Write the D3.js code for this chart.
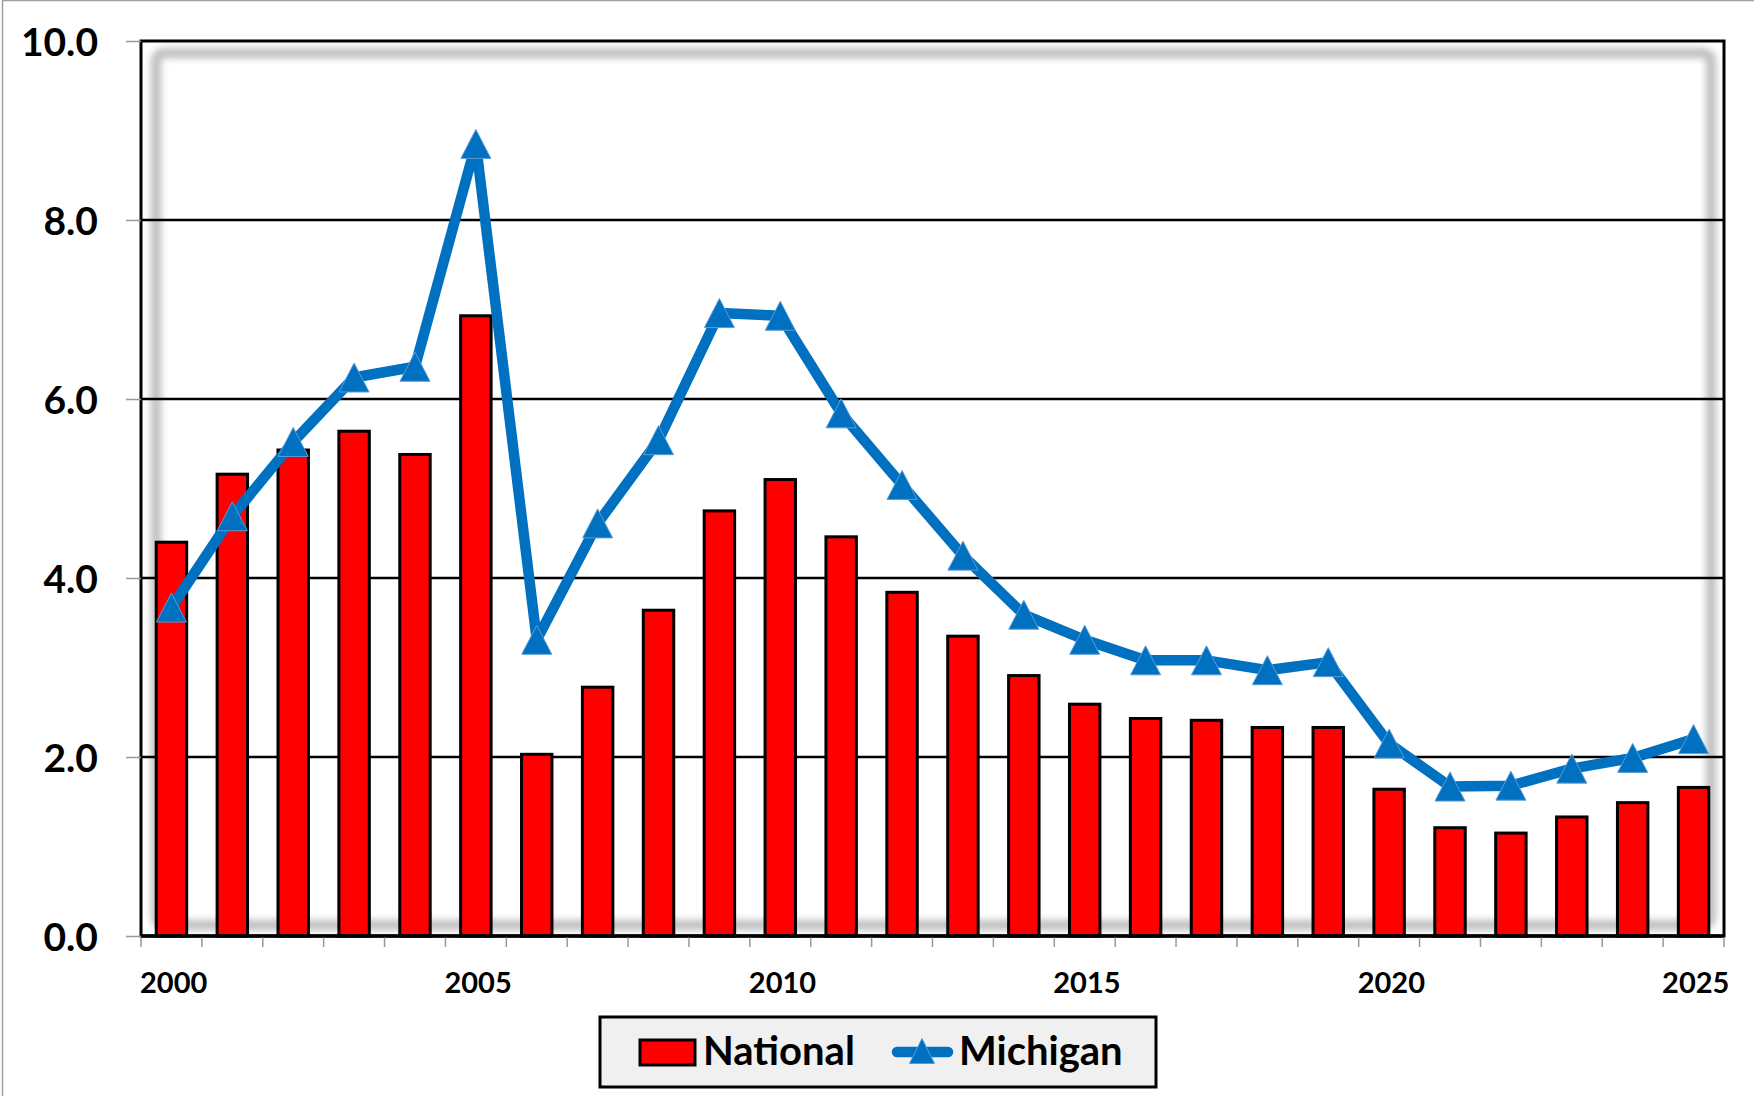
<!DOCTYPE html>
<html>
<head>
<meta charset="utf-8">
<script src="https://cdn.jsdelivr.net/npm/d3@7"></script>
<style>
  body { margin: 0; background: #fff; }
  text { font-family: Lato, "Open Sans", sans-serif; font-weight: bold; fill: #000; }
</style>
</head>
<body>
<svg id="chart" width="1754" height="1096"></svg>
<script>
// data
const years = [2000, 2001, 2002, 2003, 2004, 2005, 2006, 2007, 2008, 2009, 2010, 2011, 2012,
  2013, 2014, 2015, 2016, 2017, 2018, 2019, 2020, 2021, 2022, 2023, 2024, 2025];
const national = [4.40, 5.16, 5.43, 5.64, 5.38, 6.93, 2.03, 2.78, 3.64, 4.75, 5.10, 4.46, 3.84,
  3.35, 2.91, 2.59, 2.43, 2.41, 2.33, 2.33, 1.64, 1.21, 1.15, 1.33, 1.49, 1.66];
const michigan = [3.67, 4.69, 5.52, 6.24, 6.36, 8.85, 3.31, 4.61, 5.54, 6.96, 6.93, 5.84, 5.04,
  4.25, 3.59, 3.31, 3.08, 3.08, 2.97, 3.06, 2.15, 1.67, 1.68, 1.87, 1.99, 2.20];
const yTicks = [0, 2, 4, 6, 8, 10];
const xLabels = [2000, 2005, 2010, 2015, 2020, 2025];
const seriesNames = ['National', 'Michigan'];

const plotLeft = 141, plotRight = 1724, plotTop = 41, plotBottom = 936;
const blue = '#0070C0';

const svg = d3.select('#chart');

// outer chart frame (only left/top edges visible in the picture)
svg.append('rect')
  .attr('x', 2.5).attr('y', 0.5)
  .attr('width', 1800).attr('height', 1200)
  .attr('fill', '#fff')
  .attr('stroke', '#a0a0a0')
  .attr('stroke-width', 1.5);

const x = d3.scaleBand()
  .domain(years)
  .range([plotLeft, plotRight])
  .paddingInner(0.5)
  .paddingOuter(0.25);
const step = x.step();
const edge = d => x(d) - step * 0.25;

const y = d3.scaleLinear().domain([0, 10]).range([plotBottom, plotTop]);

// soft inner shadow of the plot area
const defs = svg.append('defs');
defs.append('filter')
  .attr('id', 'soft')
  .attr('x', '-5%').attr('y', '-5%').attr('width', '110%').attr('height', '110%')
  .append('feGaussianBlur')
  .attr('stdDeviation', 3.5);

svg.append('rect')
  .attr('x', 156).attr('y', 53)
  .attr('width', 1711 - 156).attr('height', 925 - 53)
  .attr('rx', 8)
  .attr('fill', 'none')
  .attr('stroke', '#bdbdbd')
  .attr('stroke-width', 10)
  .attr('filter', 'url(#soft)');

// gridlines
svg.append('g')
  .selectAll('line')
  .data(yTicks.filter(d => d > 0 && d < 10))
  .join('line')
  .attr('x1', plotLeft).attr('x2', plotRight)
  .attr('y1', d => y(d)).attr('y2', d => y(d))
  .attr('stroke', '#000')
  .attr('stroke-width', 2.6);

// bars
svg.append('g')
  .selectAll('rect')
  .data(years)
  .join('rect')
  .attr('x', d => x(d))
  .attr('y', (d, i) => y(national[i]))
  .attr('width', x.bandwidth())
  .attr('height', (d, i) => y(0) - y(national[i]))
  .attr('fill', '#FF0000')
  .attr('stroke', '#000')
  .attr('stroke-width', 3);

// michigan line
const line = d3.line()
  .x((d, i) => x(years[i]) + x.bandwidth() / 2)
  .y(d => y(d));

svg.append('path')
  .datum(michigan)
  .attr('d', line)
  .attr('fill', 'none')
  .attr('stroke', blue)
  .attr('stroke-width', 10.5)
  .attr('stroke-linejoin', 'round');

const tri = (w, h) => `M0,${-h / 2}L${w / 2},${h / 2}L${-w / 2},${h / 2}Z`;

svg.append('g')
  .selectAll('path')
  .data(michigan)
  .join('path')
  .attr('transform', (d, i) => `translate(${x(years[i]) + x.bandwidth() / 2},${y(d)})`)
  .attr('d', tri(30, 29))
  .attr('fill', blue)
  .attr('stroke', '#5B9BD5')
  .attr('stroke-width', 1);

// plot border
svg.append('rect')
  .attr('x', plotLeft).attr('y', plotTop)
  .attr('width', plotRight - plotLeft).attr('height', plotBottom - plotTop)
  .attr('fill', 'none')
  .attr('stroke', '#000')
  .attr('stroke-width', 3);

// y axis
const yAxis = svg.append('g')
  .attr('transform', `translate(${plotLeft},0)`)
  .call(d3.axisLeft(y).tickValues(yTicks).tickFormat(d3.format('.1f')).tickSize(15).tickPadding(28));
yAxis.select('.domain').remove();
yAxis.selectAll('.tick line').attr('stroke', '#999').attr('stroke-width', 1.5);
yAxis.selectAll('.tick text')
  .attr('font-size', 39)
  .attr('dy', '0.36em')
  .style('font-family', 'Lato, sans-serif')
  .style('font-weight', 'bold');

// x axis: tick marks at category edges, labels from the left edge
const xAxis = svg.append('g');
xAxis.append('line')
  .attr('x1', plotLeft).attr('x2', plotRight)
  .attr('y1', plotBottom).attr('y2', plotBottom)
  .attr('stroke', '#000')
  .attr('stroke-width', 3.5);

xAxis.selectAll('line.tick')
  .data(years.map(edge).concat([plotRight]))
  .join('line')
  .attr('class', 'tick')
  .attr('x1', d => d).attr('x2', d => d)
  .attr('y1', plotBottom + 1.5).attr('y2', plotBottom + 11)
  .attr('stroke', '#999')
  .attr('stroke-width', 1.5);

xAxis.selectAll('text')
  .data(xLabels)
  .join('text')
  .attr('x', d => edge(d) - 1)
  .attr('y', 993)
  .attr('font-size', 29)
  .attr('text-anchor', 'start')
  .text(d => d);

// legend
const legend = svg.append('g');
legend.append('rect')
  .attr('x', 600).attr('y', 1017)
  .attr('width', 556).attr('height', 70)
  .attr('fill', '#F0F0F0')
  .attr('stroke', '#000')
  .attr('stroke-width', 3);

legend.append('rect')
  .attr('x', 640).attr('y', 1040)
  .attr('width', 55).attr('height', 25)
  .attr('fill', '#FF0000')
  .attr('stroke', '#000')
  .attr('stroke-width', 3);
legend.append('text')
  .attr('x', 703).attr('y', 1065)
  .attr('font-size', 40)
  .text(seriesNames[0]);

legend.append('line')
  .attr('x1', 897).attr('x2', 948)
  .attr('y1', 1052).attr('y2', 1052)
  .attr('stroke', blue)
  .attr('stroke-width', 10.5)
  .attr('stroke-linecap', 'round');
legend.append('path')
  .attr('transform', 'translate(922,1051)')
  .attr('d', tri(25, 25))
  .attr('fill', blue)
  .attr('stroke', '#5B9BD5')
  .attr('stroke-width', 1);
legend.append('text')
  .attr('x', 959).attr('y', 1065)
  .attr('font-size', 40)
  .text(seriesNames[1]);
</script>
</body>
</html>
